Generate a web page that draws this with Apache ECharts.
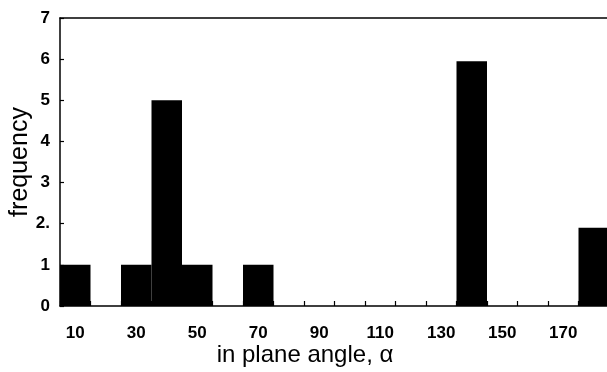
<!DOCTYPE html>
<html>
<head>
<meta charset="utf-8">
<script src="https://cdn.jsdelivr.net/npm/echarts@6/dist/echarts.min.js"></script>
<style>html,body{margin:0;padding:0;background:#fff}#c{width:607px;height:372px}</style>
</head>
<body>
<div id="c"></div>
<script>
const categories = [10,20,30,40,50,60,70,80,90,100,110,120,130,140,150,160,170,180];
const frequency  = [1,0,1,5,1,0,1,0,0,0,0,0,0,5.95,0,0,0,1.9];
const yTickLabels = ['0','1','2.','3','4','5','6','7'];

const chart = echarts.init(document.getElementById('c'), null, {renderer:'canvas'});
chart.setOption({
  animation:false,
  backgroundColor:'#fff',
  grid:{left:60, right:-2, top:18, bottom:66, outerBoundsMode:'none', containLabel:false},
  xAxis:[{
    type:'category',
    data:categories.map(String),
    boundaryGap:true,
    position:'bottom',
    name:'in plane angle, α',
    nameLocation:'middle',
    nameGap:37,
    nameMoveOverlap:false,
    nameTextStyle:{fontFamily:'Liberation Sans, Arial, sans-serif', fontSize:24, color:'#000', padding:[0,59,0,0]},
    axisLine:{lineStyle:{color:'#000', width:1.5}},
    axisTick:{show:true, inside:true, length:5, interval:0, lineStyle:{color:'#000', width:1.2}},
    axisLabel:{interval:1, margin:19, fontFamily:'Liberation Sans, Arial, sans-serif', fontSize:17, fontWeight:'bold', color:'#000'},
    splitLine:{show:false}
  },{
    type:'category',
    data:categories.map(String),
    position:'top',
    axisLine:{show:true, lineStyle:{color:'#000', width:1.5}},
    axisTick:{show:false},
    axisLabel:{show:false},
    splitLine:{show:false}
  }],
  yAxis:{
    type:'value',
    min:0, max:7, interval:1,
    name:'frequency',
    nameLocation:'middle',
    nameGap:27,
    nameMoveOverlap:false,
    nameTextStyle:{fontFamily:'Liberation Sans, Arial, sans-serif', fontSize:25, color:'#000'},
    axisLine:{show:true, lineStyle:{color:'#000', width:1.5}},
    axisTick:{show:true, inside:true, length:4, lineStyle:{color:'#000', width:1.2}},
    axisLabel:{margin:10, fontFamily:'Liberation Sans, Arial, sans-serif', fontSize:17, fontWeight:'bold', color:'#000',
      formatter:function(v){return yTickLabels[Math.round(v)];}},
    splitLine:{show:false}
  },
  series:[{
    type:'bar',
    data:frequency,
    barWidth:'100%',
    barCategoryGap:'0%',
    itemStyle:{color:'#000'}
  }]
});
</script>
</body>
</html>
